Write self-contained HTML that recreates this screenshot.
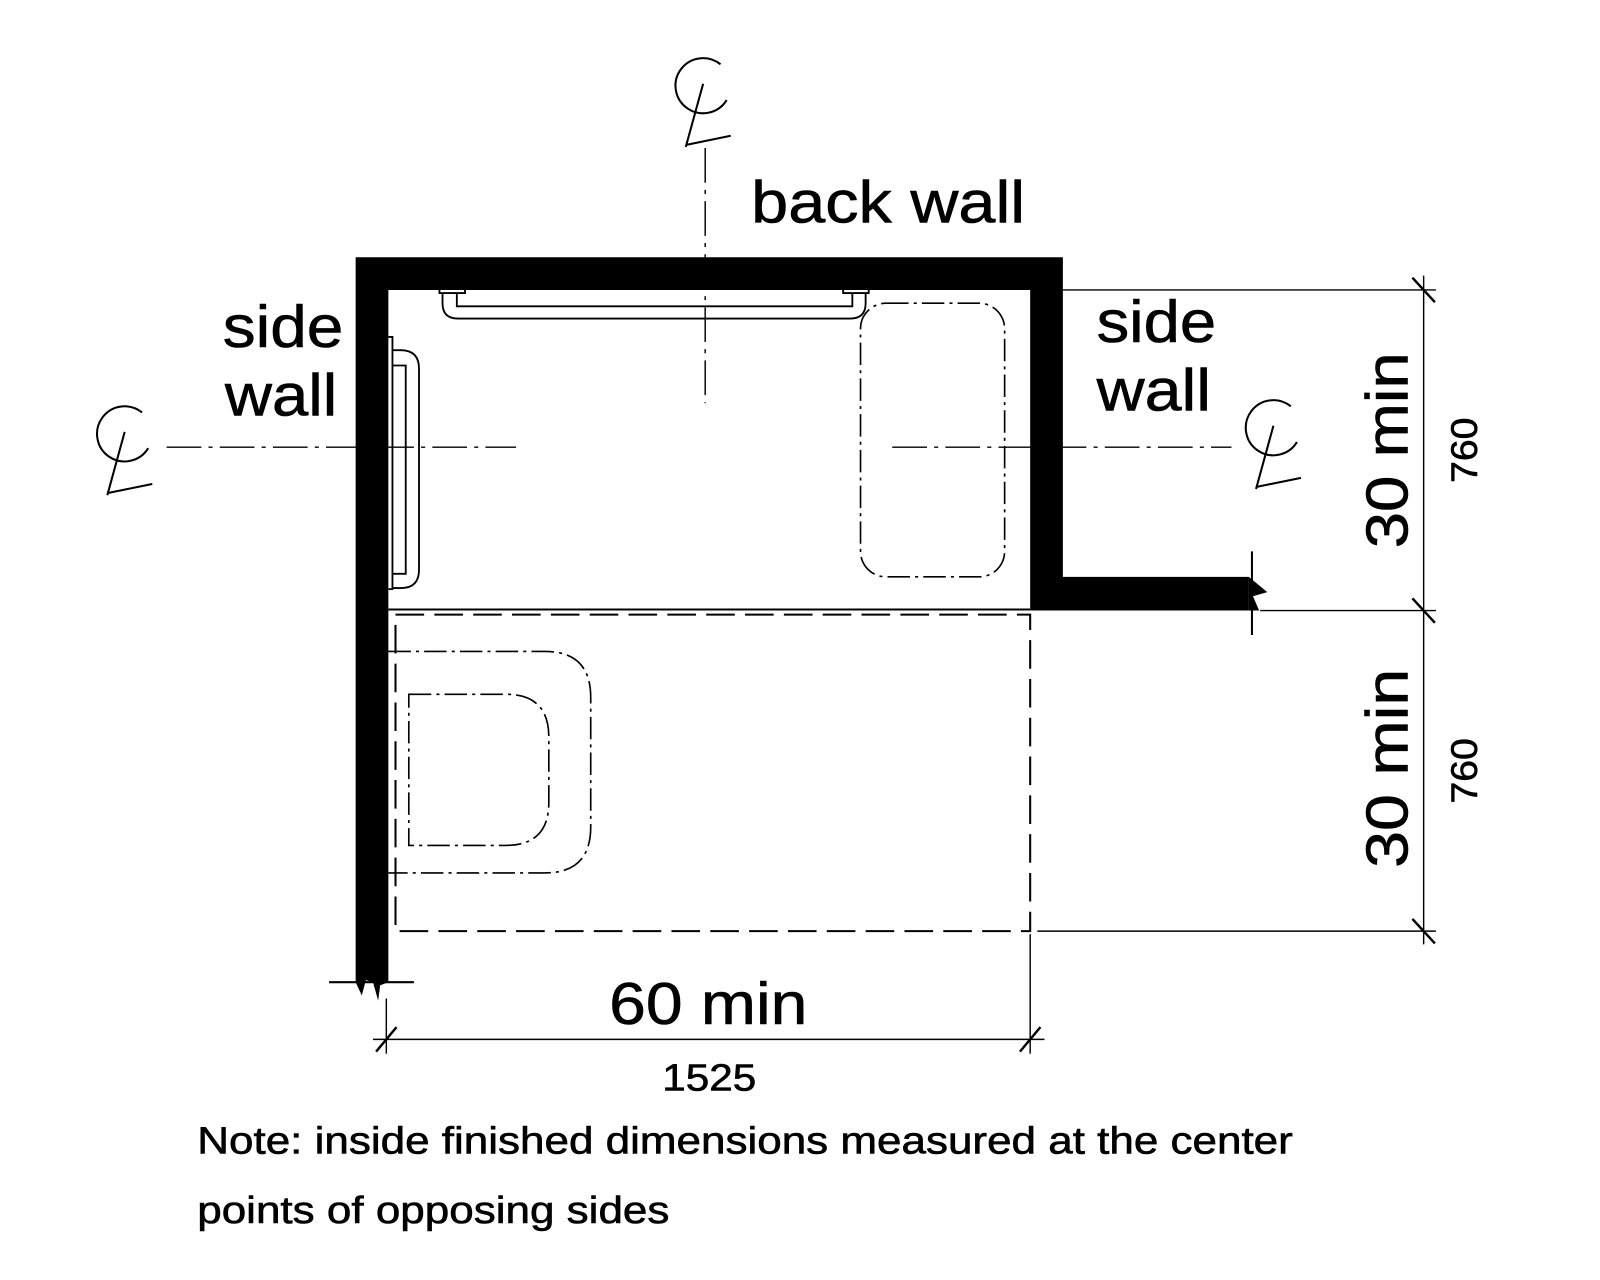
<!DOCTYPE html>
<html><head><meta charset="utf-8"><style>
html,body{margin:0;padding:0;background:#fff;}
svg{display:block;}
text{font-family:"Liberation Sans",Arial,sans-serif;fill:#000;stroke:#000;stroke-width:0.6;}
</style></head><body>
<svg width="1600" height="1280" viewBox="0 0 1600 1280" xmlns="http://www.w3.org/2000/svg">
<defs>
<g id="cl" fill="none" stroke="#000" stroke-width="2">
<path d="M20,-27 A27,27 0 1 0 26,8"/>
<line x1="3" y1="-8" x2="-14" y2="54"/>
<line x1="-14" y1="52" x2="30" y2="43"/>
</g>
</defs>
<g transform="scale(1.022,1.021)">
<!-- walls -->
<path d="M348,252 H1040 V565 H1225 V598 H1008 V284 H380 V962 H348 Z" fill="#000"/>
<rect x="1222" y="560" width="30" height="45" fill="#fff"/>
<path d="M1222,565 L1240,580 L1226,584 L1232,598 H1222 Z" fill="#000"/>
<rect x="345" y="955" width="40" height="30" fill="#fff"/>
<path d="M348,955 H380 V962 L372,965 L370,980 L365,962 L358,960 L354,975 L348,962 Z" fill="#000"/>
<line x1="322" y1="962" x2="405" y2="962" stroke="#000" stroke-width="2"/>
<line x1="1225" y1="540" x2="1225" y2="622" stroke="#000" stroke-width="2"/>
<!-- boundary line -->
<line x1="380" y1="597" x2="1008" y2="597" stroke="#000" stroke-width="2"/>
<!-- clear floor space dashed -->
<rect x="387" y="602" width="621" height="310" fill="none" stroke="#000" stroke-width="2" stroke-dasharray="28,10"/>
<!-- toilet -->
<path d="M380,638 H533 Q578,638 578,683 V810 Q578,855 533,855 H380" fill="none" stroke="#000" stroke-width="1.6" stroke-dasharray="22,5,3,5"/>
<path d="M400,680 H495 Q537,680 537,722 V786 Q537,828 495,828 H400 Z" fill="none" stroke="#000" stroke-width="1.6" stroke-dasharray="22,5,3,5"/>
<!-- lavatory -->
<rect x="842" y="297" width="141" height="268" rx="25" fill="none" stroke="#000" stroke-width="1.6" stroke-dasharray="22,5,3,5"/>
<!-- grab bars -->
<g fill="none" stroke="#000" stroke-width="1.8">
<path d="M430,284 V287 H455 V284"/>
<path d="M825,284 V287 H850 V284"/>
<path d="M433,287 V297 Q433,312 448,312 H832 Q847,312 847,297 V287"/>
<path d="M447,287 V300 H834 V287"/>
<path d="M380,330 H384 V577 H380"/>
<path d="M384,343 H392 Q410,343 410,361 V558 Q410,576 392,576 H384"/>
<path d="M384,358 H397 V562 H384"/>
</g>
<!-- centerlines -->
<g stroke="#000" stroke-width="1.4" fill="none" stroke-dasharray="34,7,4,7">
<line x1="690" y1="145" x2="690" y2="395"/>
<line x1="163" y1="438" x2="505" y2="438"/>
<line x1="873" y1="438" x2="1205" y2="438"/>
</g>
<use href="#cl" x="685" y="90"/>
<use href="#cl" x="119" y="431"/>
<use href="#cl" x="1243" y="425"/>
<!-- dimensions -->
<g stroke="#000" stroke-width="1.4" fill="none">
<line x1="1393" y1="270" x2="1393" y2="925"/>
<line x1="1040" y1="284" x2="1405" y2="284"/>
<line x1="1233" y1="598" x2="1405" y2="598"/>
<line x1="1015" y1="912" x2="1405" y2="912"/>
<line x1="1382" y1="272" x2="1404" y2="296" stroke-width="2.4"/>
<line x1="1382" y1="586" x2="1404" y2="610" stroke-width="2.4"/>
<line x1="1382" y1="900" x2="1404" y2="924" stroke-width="2.4"/>
<line x1="365" y1="1018" x2="1022" y2="1018"/>
<line x1="378" y1="978" x2="378" y2="1032"/>
<line x1="1008" y1="915" x2="1008" y2="1032"/>
<line x1="368" y1="1030" x2="388" y2="1006" stroke-width="2.4"/>
<line x1="998" y1="1030" x2="1018" y2="1006" stroke-width="2.4"/>
</g>
<!-- labels -->
<text x="735" y="218" font-size="58" textLength="268" lengthAdjust="spacingAndGlyphs">back wall</text>
<text x="218" y="340" font-size="58" textLength="118" lengthAdjust="spacingAndGlyphs">side</text>
<text x="220" y="407" font-size="58" textLength="110" lengthAdjust="spacingAndGlyphs">wall</text>
<text x="1073" y="335" font-size="58" textLength="117" lengthAdjust="spacingAndGlyphs">side</text>
<text x="1073" y="402" font-size="58" textLength="112" lengthAdjust="spacingAndGlyphs">wall</text>
<text transform="translate(1377,537) rotate(-90)" font-size="58" textLength="192" lengthAdjust="spacingAndGlyphs">30 min</text>
<text transform="translate(1377,850) rotate(-90)" font-size="58" textLength="195" lengthAdjust="spacingAndGlyphs">30 min</text>
<text transform="translate(1445,473) rotate(-90)" font-size="36" textLength="64" lengthAdjust="spacingAndGlyphs">760</text>
<text transform="translate(1445,787) rotate(-90)" font-size="36" textLength="64" lengthAdjust="spacingAndGlyphs">760</text>
<text x="596" y="1003" font-size="58" textLength="194" lengthAdjust="spacingAndGlyphs">60 min</text>
<text x="648" y="1068" font-size="37" textLength="92" lengthAdjust="spacingAndGlyphs">1525</text>
<text x="193" y="1130" font-size="37" textLength="1072" lengthAdjust="spacingAndGlyphs">Note: inside finished dimensions measured at the center</text>
<text x="193" y="1198" font-size="37" textLength="462" lengthAdjust="spacingAndGlyphs">points of opposing sides</text>
</g>
</svg>
</body></html>
